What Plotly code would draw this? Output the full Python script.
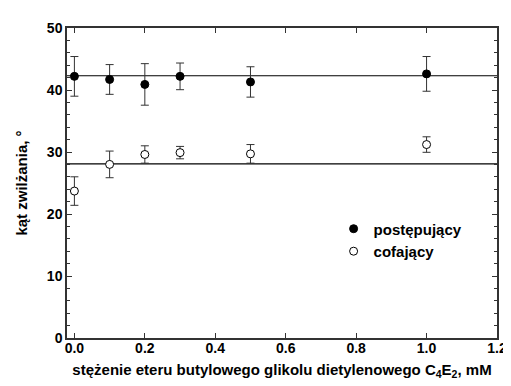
import plotly.graph_objects as go

conc = [0.0, 0.1, 0.2, 0.3, 0.5, 1.0]
adv = [42.2, 41.7, 40.9, 42.2, 41.3, 42.6]
adv_err = [3.2, 2.4, 3.35, 2.15, 2.45, 2.8]
rec = [23.7, 28.0, 29.6, 29.9, 29.7, 31.2]
rec_err = [2.3, 2.15, 1.4, 1.0, 1.5, 1.25]
adv_mean = 42.3
rec_mean = 28.1
xticks = [0.0, 0.2, 0.4, 0.6, 0.8, 1.0, 1.2]
ytick_vals = [0, 10, 20, 30, 40, 50]

FONT = "Liberation Sans, Arial, sans-serif"
AX = "#333333"

fig = go.Figure()
fig.add_trace(go.Scatter(
    x=conc, y=adv, mode="markers", name="<b>postępujący</b>",
    marker=dict(symbol="circle", size=8, color="black", line=dict(color="black", width=1)),
    error_y=dict(type="data", array=adv_err, color=AX, thickness=1, width=4),
))
fig.add_trace(go.Scatter(
    x=conc, y=rec, mode="markers", name="<b>cofający</b>",
    marker=dict(symbol="circle", size=8, color="white", line=dict(color="black", width=1)),
    error_y=dict(type="data", array=rec_err, color=AX, thickness=1, width=4),
))
for m in (adv_mean, rec_mean):
    fig.add_shape(type="line", xref="x domain", yref="y", x0=0, x1=1, y0=m, y1=m,
                  line=dict(color="black", width=1.2), layer="below")

fig.update_layout(
    width=511, height=386,
    margin=dict(l=59, r=14, t=17, b=56),
    paper_bgcolor="white", plot_bgcolor="white",
    font=dict(family=FONT, size=14, color="black"),
    showlegend=True,
    legend=dict(x=0.62, y=0.405, xanchor="left", yanchor="top",
                bgcolor="rgba(0,0,0,0)", font=dict(size=15, family=FONT),
                itemwidth=30, tracegroupgap=0),
    xaxis=dict(
        range=[-0.021, 1.2], tickvals=xticks,
        ticktext=[f"<b>{v:.1f}</b>" for v in xticks],
        ticks="inside", ticklen=5, tickcolor=AX,
        showline=True, linecolor=AX, linewidth=1.5, mirror="ticks",
        showgrid=False, zeroline=False,
        tickfont=dict(size=14), ticklabelstandoff=-4,
        title=dict(text="<b>stężenie eteru butylowego glikolu dietylenowego C<sub>4</sub>E<sub>2</sub>, mM</b>",
                   font=dict(size=15), standoff=10),
    ),
    yaxis=dict(
        range=[0, 50], tickvals=ytick_vals,
        ticktext=[f"<b>{v}</b>" for v in ytick_vals],
        ticks="inside", ticklen=5, tickcolor=AX,
        minor=dict(dtick=2, ticks="inside", ticklen=3, tickcolor=AX),
        showline=True, linecolor=AX, linewidth=1.5, mirror="ticks",
        showgrid=False, zeroline=False,
        tickfont=dict(size=14),
        title=dict(text="<b>kąt zwilżania, °</b>", font=dict(size=15), standoff=16),
    ),
)
fig.write_html("out.html")
